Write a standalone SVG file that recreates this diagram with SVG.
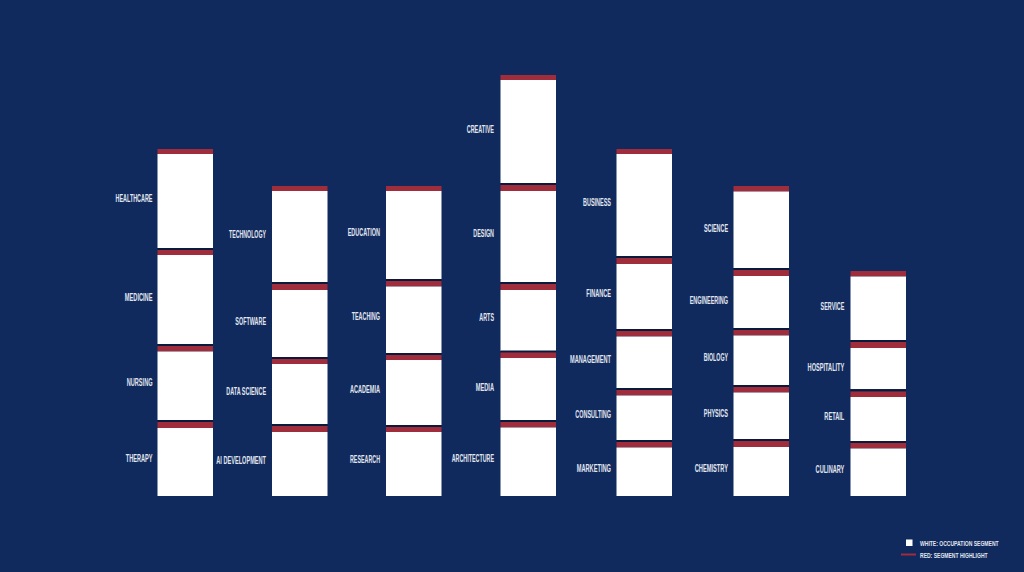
<svg xmlns="http://www.w3.org/2000/svg" width="1024" height="572" viewBox="0 0 1024 572">
<style>
.bg{fill:#102a5e}
.w{fill:#ffffff}
.r{fill:#a02d3c}
.sh{fill:#0a1a3c}
.lbl{font-family:"Liberation Sans",Arial,sans-serif;font-weight:bold;font-size:10.5px;fill:#e2e6ee;text-anchor:end}
.leg{font-family:"Liberation Sans",Arial,sans-serif;font-weight:bold;font-size:8px;fill:#e2e6ee}
</style>
<rect class="bg" x="0" y="0" width="1024" height="572"/>

<!-- Column 1 -->
<g id="healthcare"><rect class="r" x="157.5" y="149" width="55.5" height="5"/><rect class="w" x="157.5" y="154" width="55.5" height="94"/><text class="lbl" x="152.5" y="202.3" textLength="37" lengthAdjust="spacingAndGlyphs">HEALTHCARE</text></g>
<g id="medicine"><rect class="sh" x="157.5" y="248" width="55.5" height="2"/><rect class="r" x="157.5" y="250" width="55.5" height="5"/><rect class="w" x="157.5" y="255" width="55.5" height="89"/><text class="lbl" x="152.5" y="301" textLength="27.7" lengthAdjust="spacingAndGlyphs">MEDICINE</text></g>
<g id="nursing"><rect class="sh" x="157.5" y="344" width="55.5" height="2"/><rect class="r" x="157.5" y="346" width="55.5" height="5.5"/><rect class="w" x="157.5" y="351.5" width="55.5" height="68.5"/><text class="lbl" x="152.5" y="386" textLength="25.7" lengthAdjust="spacingAndGlyphs">NURSING</text></g>
<g id="therapy"><rect class="sh" x="157.5" y="420" width="55.5" height="2"/><rect class="r" x="157.5" y="422" width="55.5" height="6"/><rect class="w" x="157.5" y="428" width="55.5" height="68"/><text class="lbl" x="152.5" y="462.3" textLength="26.7" lengthAdjust="spacingAndGlyphs">THERAPY</text></g>

<!-- Column 2 -->
<g id="technology"><rect class="r" x="272" y="186" width="55.5" height="5"/><rect class="w" x="272" y="191" width="55.5" height="91"/><text class="lbl" x="266" y="238.3" textLength="37" lengthAdjust="spacingAndGlyphs">TECHNOLOGY</text></g>
<g id="software"><rect class="sh" x="272" y="282" width="55.5" height="2"/><rect class="r" x="272" y="284" width="55.5" height="6"/><rect class="w" x="272" y="290" width="55.5" height="67"/><text class="lbl" x="266" y="324.5" textLength="30.7" lengthAdjust="spacingAndGlyphs">SOFTWARE</text></g>
<g id="data-science"><rect class="sh" x="272" y="357" width="55.5" height="2"/><rect class="r" x="272" y="359" width="55.5" height="5"/><rect class="w" x="272" y="364" width="55.5" height="60"/><text class="lbl" x="266" y="395" textLength="39.7" lengthAdjust="spacingAndGlyphs">DATA SCIENCE</text></g>
<g id="ai-development"><rect class="sh" x="272" y="424" width="55.5" height="2"/><rect class="r" x="272" y="426" width="55.5" height="6"/><rect class="w" x="272" y="432" width="55.5" height="64"/><text class="lbl" x="266" y="464" textLength="49.7" lengthAdjust="spacingAndGlyphs">AI DEVELOPMENT</text></g>

<!-- Column 3 -->
<g id="education"><rect class="r" x="386" y="186" width="55.5" height="5"/><rect class="w" x="386" y="191" width="55.5" height="88"/><text class="lbl" x="380" y="236" textLength="32.3" lengthAdjust="spacingAndGlyphs">EDUCATION</text></g>
<g id="teaching"><rect class="sh" x="386" y="279" width="55.5" height="2"/><rect class="r" x="386" y="281" width="55.5" height="5.5"/><rect class="w" x="386" y="286.5" width="55.5" height="66.5"/><text class="lbl" x="380" y="320" textLength="28.3" lengthAdjust="spacingAndGlyphs">TEACHING</text></g>
<g id="academia"><rect class="sh" x="386" y="353" width="55.5" height="2"/><rect class="r" x="386" y="355" width="55.5" height="5"/><rect class="w" x="386" y="360" width="55.5" height="65"/><text class="lbl" x="380" y="392.7" textLength="30" lengthAdjust="spacingAndGlyphs">ACADEMIA</text></g>
<g id="research"><rect class="sh" x="386" y="425" width="55.5" height="2"/><rect class="r" x="386" y="427" width="55.5" height="5"/><rect class="w" x="386" y="432" width="55.5" height="64"/><text class="lbl" x="380" y="463.3" textLength="30" lengthAdjust="spacingAndGlyphs">RESEARCH</text></g>

<!-- Column 4 -->
<g id="creative"><rect class="r" x="500.5" y="75" width="55.5" height="5"/><rect class="w" x="500.5" y="80" width="55.5" height="103"/><text class="lbl" x="494" y="133.3" textLength="27.3" lengthAdjust="spacingAndGlyphs">CREATIVE</text></g>
<g id="design"><rect class="sh" x="500.5" y="183" width="55.5" height="2"/><rect class="r" x="500.5" y="185" width="55.5" height="6"/><rect class="w" x="500.5" y="191" width="55.5" height="91"/><text class="lbl" x="494" y="236.7" textLength="20.7" lengthAdjust="spacingAndGlyphs">DESIGN</text></g>
<g id="arts"><rect class="sh" x="500.5" y="282" width="55.5" height="2"/><rect class="r" x="500.5" y="284" width="55.5" height="6"/><rect class="w" x="500.5" y="290" width="55.5" height="61"/><text class="lbl" x="494" y="320.7" textLength="14.7" lengthAdjust="spacingAndGlyphs">ARTS</text></g>
<g id="media"><rect class="sh" x="500.5" y="350.5" width="55.5" height="2"/><rect class="r" x="500.5" y="352.5" width="55.5" height="5.5"/><rect class="w" x="500.5" y="358" width="55.5" height="62"/><text class="lbl" x="494" y="390.7" textLength="18.3" lengthAdjust="spacingAndGlyphs">MEDIA</text></g>
<g id="architecture"><rect class="sh" x="500.5" y="420" width="55.5" height="2"/><rect class="r" x="500.5" y="422" width="55.5" height="5.5"/><rect class="w" x="500.5" y="427.5" width="55.5" height="68.5"/><text class="lbl" x="494" y="461.7" textLength="42.3" lengthAdjust="spacingAndGlyphs">ARCHITECTURE</text></g>

<!-- Column 5 -->
<g id="business"><rect class="r" x="616.5" y="149" width="55.5" height="5"/><rect class="w" x="616.5" y="154" width="55.5" height="102"/><text class="lbl" x="611" y="206" textLength="28" lengthAdjust="spacingAndGlyphs">BUSINESS</text></g>
<g id="finance"><rect class="sh" x="616.5" y="256" width="55.5" height="2"/><rect class="r" x="616.5" y="258" width="55.5" height="6"/><rect class="w" x="616.5" y="264" width="55.5" height="65"/><text class="lbl" x="611" y="297.3" textLength="24.7" lengthAdjust="spacingAndGlyphs">FINANCE</text></g>
<g id="management"><rect class="sh" x="616.5" y="329" width="55.5" height="2"/><rect class="r" x="616.5" y="331" width="55.5" height="5.5"/><rect class="w" x="616.5" y="336.5" width="55.5" height="51.5"/><text class="lbl" x="611" y="362.7" textLength="41" lengthAdjust="spacingAndGlyphs">MANAGEMENT</text></g>
<g id="consulting"><rect class="sh" x="616.5" y="388" width="55.5" height="2"/><rect class="r" x="616.5" y="390" width="55.5" height="5.5"/><rect class="w" x="616.5" y="395.5" width="55.5" height="44.5"/><text class="lbl" x="611" y="418.3" textLength="35.7" lengthAdjust="spacingAndGlyphs">CONSULTING</text></g>
<g id="marketing"><rect class="sh" x="616.5" y="440" width="55.5" height="2"/><rect class="r" x="616.5" y="442" width="55.5" height="5.5"/><rect class="w" x="616.5" y="447.5" width="55.5" height="48.5"/><text class="lbl" x="611" y="471.7" textLength="34.3" lengthAdjust="spacingAndGlyphs">MARKETING</text></g>

<!-- Column 6 -->
<g id="science"><rect class="r" x="733.5" y="186" width="55.5" height="5.5"/><rect class="w" x="733.5" y="191.5" width="55.5" height="76.5"/><text class="lbl" x="728" y="232.3" textLength="24" lengthAdjust="spacingAndGlyphs">SCIENCE</text></g>
<g id="engineering"><rect class="sh" x="733.5" y="268" width="55.5" height="2"/><rect class="r" x="733.5" y="270" width="55.5" height="6"/><rect class="w" x="733.5" y="276" width="55.5" height="52"/><text class="lbl" x="728" y="304" textLength="38.3" lengthAdjust="spacingAndGlyphs">ENGINEERING</text></g>
<g id="biology"><rect class="sh" x="733.5" y="328" width="55.5" height="2"/><rect class="r" x="733.5" y="330" width="55.5" height="5.5"/><rect class="w" x="733.5" y="335.5" width="55.5" height="49.5"/><text class="lbl" x="728" y="361.3" textLength="24.3" lengthAdjust="spacingAndGlyphs">BIOLOGY</text></g>
<g id="physics"><rect class="sh" x="733.5" y="385" width="55.5" height="2"/><rect class="r" x="733.5" y="387" width="55.5" height="5.5"/><rect class="w" x="733.5" y="392.5" width="55.5" height="46.5"/><text class="lbl" x="728" y="416.7" textLength="24.3" lengthAdjust="spacingAndGlyphs">PHYSICS</text></g>
<g id="chemistry"><rect class="sh" x="733.5" y="439" width="55.5" height="2"/><rect class="r" x="733.5" y="441" width="55.5" height="6"/><rect class="w" x="733.5" y="447" width="55.5" height="49"/><text class="lbl" x="728" y="472" textLength="33.3" lengthAdjust="spacingAndGlyphs">CHEMISTRY</text></g>

<!-- Column 7 -->
<g id="service"><rect class="r" x="850.5" y="271" width="55.5" height="5.5"/><rect class="w" x="850.5" y="276.5" width="55.5" height="63.5"/><text class="lbl" x="844.3" y="310" textLength="23.7" lengthAdjust="spacingAndGlyphs">SERVICE</text></g>
<g id="hospitality"><rect class="sh" x="850.5" y="340" width="55.5" height="2"/><rect class="r" x="850.5" y="342" width="55.5" height="6"/><rect class="w" x="850.5" y="348" width="55.5" height="41"/><text class="lbl" x="844.3" y="370.7" textLength="36.7" lengthAdjust="spacingAndGlyphs">HOSPITALITY</text></g>
<g id="retail"><rect class="sh" x="850.5" y="389.5" width="55.5" height="2"/><rect class="r" x="850.5" y="391.5" width="55.5" height="5.5"/><rect class="w" x="850.5" y="397" width="55.5" height="44"/><text class="lbl" x="844.3" y="420" textLength="20" lengthAdjust="spacingAndGlyphs">RETAIL</text></g>
<g id="culinary"><rect class="sh" x="850.5" y="441" width="55.5" height="2"/><rect class="r" x="850.5" y="443" width="55.5" height="5.5"/><rect class="w" x="850.5" y="448.5" width="55.5" height="47.5"/><text class="lbl" x="844.3" y="473.3" textLength="28.7" lengthAdjust="spacingAndGlyphs">CULINARY</text></g>

<g id="connectors"></g>

<!-- Legend -->
<g id="legend">
<rect class="w" x="906" y="539.5" width="6.5" height="6.5"/>
<text class="leg" transform="translate(920 545.8) scale(0.63 1)" x="0" y="0">WHITE: OCCUPATION SEGMENT</text>
<line x1="901" y1="554.5" x2="916" y2="554.5" stroke="#a02d3c" stroke-width="2"/>
<text class="leg" transform="translate(920 557.7) scale(0.63 1)" x="0" y="0">RED: SEGMENT HIGHLIGHT</text>
</g>
</svg>
